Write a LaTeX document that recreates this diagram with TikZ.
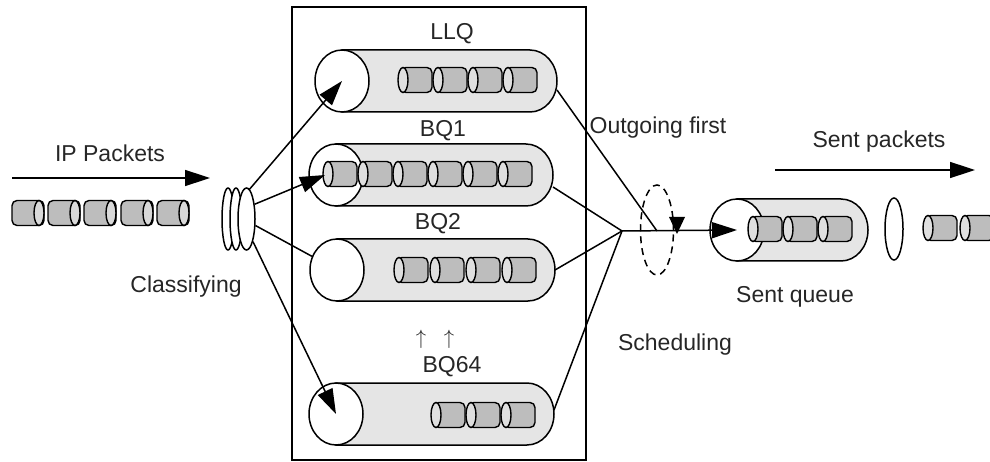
\documentclass[tikz,border=0pt]{standalone}
\usepackage{fontspec}
\setmainfont{Liberation Sans}
\usepackage{tikz}
\usetikzlibrary{arrows.meta,shapes.geometric}

\tikzset{
  qbody/.style={fill=gray!20, draw=black, line width=1.5pt},
  qcap/.style={ellipse, draw=black, fill=white, line width=1.5pt, inner sep=0pt, minimum width=54pt, minimum height=62pt},
  disc/.style={ellipse, draw=black, fill=white, line width=1.5pt, inner sep=0pt, minimum height=62pt},
  wire/.style={line width=1.5pt},
  fan/.style={line width=1.5pt, -{Triangle[length=25pt,width=16pt]}},
  lbl/.style={inner sep=0pt, text=black!85},
  pktq/.pic={
    \filldraw[fill=gray!52, draw=black, line width=1.4pt, rounded corners=5pt] (-14,-12.5) rectangle (17,12.5);
    \filldraw[fill=gray!25, draw=black, line width=1.4pt] (-12,0) ellipse [x radius=5, y radius=12.5];
  },
  pktin/.pic={
    \filldraw[fill=gray!52, draw=black, line width=1.4pt, rounded corners=5pt] (-16,-12.5) rectangle (16,12.5);
    \filldraw[fill=gray!30, draw=black, line width=1.4pt] (11,0) ellipse [x radius=5, y radius=12.5];
  }
}

\begin{document}
\begin{tikzpicture}[x=1pt, y=1pt, font=\fontsize{23}{27}\selectfont]

   \useasboundingbox (0,0) rectangle (990,-462);

   % incoming packets
   \foreach \x in {28,64,100,137,173} \pic at (\x,-213) {pktin};
   \coordinate (ip start) at (12,-178);
   \coordinate (ip end) at (210,-178);
   \draw[fan] (ip start) -- (ip end);
   \node[lbl] (ip) at (110,-153) {IP Packets};

   % classifier
   \node[disc, minimum width=12pt] (c1) at (228,-219) {};
   \node[disc, minimum width=12pt] (c2) at (236,-219) {};
   \node[disc, minimum width=17pt] (c3) at (246.5,-219) {};
   \node[lbl] (classify) at (186,-287) {Classifying};

   % queue box
   \draw[wire] (292,-7) rectangle (586,-460);

   % LLQ
   \filldraw[qbody] (342,-50) -- (530,-50) arc[start angle=90, end angle=-90, x radius=27, y radius=31] -- (342,-112) -- cycle;
   \node[qcap] (llq) at (342,-81) {};
   \foreach \x in {415,450,485,520} \pic at (\x,-80) {pktq};
   \node[lbl] (llq name) at (452,-34) {LLQ};

   % BQ1
   \filldraw[qbody] (336,-144) -- (526,-144) arc[start angle=90, end angle=-90, x radius=27, y radius=31] -- (336,-206) -- cycle;
   \node[qcap] (bq1) at (336,-175) {};
   \foreach \x in {340,375,410,445,480,515} \pic at (\x,-174) {pktq};
   \node[lbl] (bq1 name) at (443,-131) {BQ1};

   % BQ2
   \filldraw[qbody] (337,-239) -- (528,-239) arc[start angle=90, end angle=-90, x radius=27, y radius=31] -- (337,-301) -- cycle;
   \node[qcap] (bq2) at (337,-270) {};
   \foreach \x in {411,447,483,519} \pic at (\x,-270) {pktq};
   \node[lbl] (bq2 name) at (438,-224) {BQ2};

   \node[lbl, font=\fontsize{20}{24}\selectfont] (more1) at (421,-339) {$\uparrow$};
   \node[lbl, font=\fontsize{20}{24}\selectfont] (more2) at (449,-339) {$\uparrow$};

   % BQ64
   \filldraw[qbody] (336,-383) -- (527,-383) arc[start angle=90, end angle=-90, x radius=27, y radius=31] -- (336,-445) -- cycle;
   \node[qcap] (bq64) at (336,-414) {};
   \foreach \x in {448,483,518} \pic at (\x,-415) {pktq};
   \node[lbl] (bq64 name) at (452,-367) {BQ64};

   % classifying arrows
   \draw[fan] (c3.84) -- (llq.center);
   \draw[fan] (c3.61) -- ([xshift=-11pt]bq1.center);
   \draw[wire] (c3.-36) -- (bq2);
   \draw[fan] (c3.-74) -- (bq64.center);

   % scheduling
   \coordinate (llq out) at (557,-90);
   \coordinate (bq1 out) at (553,-187);
   \coordinate (bq2 out) at (555,-270);
   \coordinate (bq64 out) at (554,-410);
   \coordinate (merge) at (622,-231);
   \coordinate (first) at (657,-231);

   \draw[wire] (llq out) -- (first);
   \draw[wire] (bq1 out) -- (merge);
   \draw[wire] (bq2 out) -- (merge);
   \draw[wire] (bq64 out) -- (merge);

   \node[ellipse, draw=black, line width=1.5pt, dash pattern=on 7pt off 5pt, inner sep=0pt, minimum width=33pt, minimum height=90pt] (ring) at (657,-230) {};
   \coordinate (turn) at (677,-234);
   \fill ([xshift=-8pt, yshift=17pt]turn) -- ([xshift=8pt, yshift=17pt]turn) -- (turn) -- cycle;

   \node[lbl] (outfirst) at (658,-128) {Outgoing first};
   \node[lbl] (sched) at (675,-345) {Scheduling};

   % sent queue
   \filldraw[qbody] (737,-199) -- (841,-199) arc[start angle=90, end angle=-90, x radius=27, y radius=31] -- (737,-261) -- cycle;
   \node[qcap] (sq) at (737,-230) {};
   \foreach \x in {765,800,835} \pic at (\x,-229) {pktq};
   \node[lbl] (sq name) at (795,-297) {Sent queue};

   \draw[fan] (merge) -- (sq.center);

   % sent packets
   \node[ellipse, draw=black, fill=white, line width=1.5pt, inner sep=0pt, minimum width=18pt, minimum height=62pt] (gap) at (894,-229) {};
   \foreach \x in {940,977} \pic at (\x,-228) {pktq};
   \coordinate (sent start) at (775,-170);
   \coordinate (sent end) at (975,-170);
   \draw[fan] (sent start) -- (sent end);
   \node[lbl] (sent) at (879,-142) {Sent packets};

\end{tikzpicture}
\end{document}
